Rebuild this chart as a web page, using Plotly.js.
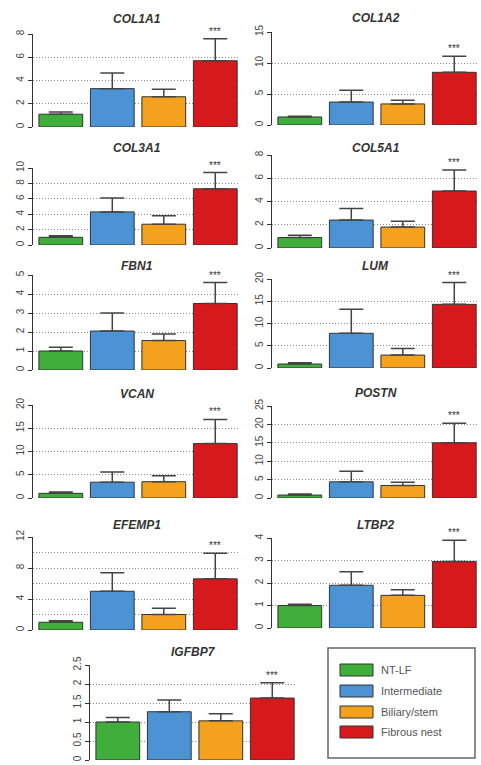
<!DOCTYPE html>
<html>
<head>
<meta charset="utf-8">
<script src="https://cdn.plot.ly/plotly-3.0.1.min.js"></script>
<style>html,body{margin:0;padding:0;background:#fff;}#chart{width:481px;height:765px;}</style>
</head>
<body>
<div id="chart"></div>
<script>
// ---- data ----
const genes = ['COL1A1','COL1A2','COL3A1','COL5A1','FBN1','LUM','VCAN','POSTN','EFEMP1','LTBP2','IGFBP7'];
const groups = ['NT-LF','Intermediate','Biliary/stem','Fibrous nest'];
const groupColors = ['#3fae3a','#4b93d4','#f4a21e','#d7191c'];
const ntlfMean   = [1.1, 1.3, 1.0, 0.9, 1.0, 0.9, 1.0, 0.8, 1.0, 1.0, 1.0];
const ntlfSem    = [0.2, 0.1, 0.2, 0.2, 0.2, 0.3, 0.3, 0.3, 0.2, 0.05, 0.12];
const interMean  = [3.3, 3.7, 4.3, 2.4, 2.05, 7.8, 3.4, 4.4, 5.0, 1.9, 1.27];
const interSem   = [1.35, 1.9, 1.8, 1.0, 0.95, 5.4, 2.2, 2.9, 2.4, 0.6, 0.31];
const biliMean   = [2.6, 3.4, 2.7, 1.8, 1.55, 2.9, 3.5, 3.4, 2.0, 1.45, 1.03];
const biliSem    = [0.65, 0.6, 1.1, 0.5, 0.35, 1.5, 1.3, 0.9, 0.8, 0.25, 0.19];
const fibMean    = [5.7, 8.5, 7.3, 4.9, 3.5, 14.3, 11.7, 15.0, 6.6, 2.95, 1.63];
const fibSem     = [1.9, 2.6, 2.1, 1.8, 1.1, 4.9, 5.2, 5.3, 3.3, 0.95, 0.40];
const sigLabel   = '***';
const yTop       = [8, 15, 10, 8, 5, 20, 20, 25, 12, 4, 2.5];
const yLabelStep = [2, 5, 2, 2, 1, 5, 5, 5, 4, 1, 0.5];
const yGridStep  = [2, 5, 2, 2, 1, 5, 5, 5, 2, 1, 0.5];

// ---- layout geometry (pixels) ----
const W = 481, H = 765;
const panelLeft  = [33, 272, 33, 272, 33, 272, 33, 272, 33, 272, 90];
const panelZero  = [127, 125, 245, 248, 370, 368, 498, 498, 630, 628, 760];
const panelTopPx = [34, 32, 168, 155, 275, 279, 405, 406, 537, 538, 665];
const titleY     = [19, 18, 148, 148, 266, 266, 394, 393, 525, 525, 652];
const panelWidth = 207;
const gridDash = '1px,2px';

const fx = p => p / W;
const fy = p => 1 - p / H;

const traces = [];
const layout = {
  width: W, height: H,
  margin: {l: 0, r: 0, t: 0, b: 0},
  paper_bgcolor: '#fff', plot_bgcolor: 'rgba(0,0,0,0)',
  showlegend: false,
  font: {family: 'Liberation Sans, Arial, sans-serif', color: '#444'},
  annotations: [], shapes: []
};

genes.forEach((g, i) => {
  const n = i + 1;
  const means = [ntlfMean[i], interMean[i], biliMean[i], fibMean[i]];
  const sems  = [ntlfSem[i], interSem[i], biliSem[i], fibSem[i]];
  traces.push({
    type: 'bar', x: [0, 1, 2, 3], y: means, width: 0.85,
    xaxis: 'x' + n, yaxis: 'y' + n,
    marker: {color: groupColors, line: {color: '#333', width: 1}},
    error_y: {type: 'data', symmetric: false, array: sems, arrayminus: [0,0,0,0],
              color: '#444', thickness: 1.5, width: 12},
    hoverinfo: 'y'
  });
  const x0 = fx(panelLeft[i]), x1 = fx(panelLeft[i] + panelWidth);
  layout['xaxis' + n] = {
    domain: [x0, x1], range: [-0.54, 3.48], anchor: 'y' + n,
    showticklabels: false, showgrid: false, zeroline: false, showline: false, ticks: ''
  };
  const ticks = [];
  for (let v = 0; v <= yTop[i] + 1e-9; v += yLabelStep[i]) ticks.push(+v.toFixed(2));
  const yax = {
    domain: [fy(panelZero[i]), fy(panelTopPx[i])], range: [0, yTop[i]], anchor: 'x' + n,
    tickvals: ticks, ticktext: ticks.map(v => String(v)),
    tickangle: -90, tickfont: {size: 10, color: '#444'},
    ticks: 'outside', ticklen: 4, tickcolor: '#333',
    showline: true, linecolor: '#333', linewidth: 1,
    showgrid: true, gridcolor: '#8a8a8a', griddash: gridDash, gridwidth: 1,
    zeroline: false
  };
  if (yGridStep[i] !== yLabelStep[i]) {
    yax.minor = {tick0: 0, dtick: yGridStep[i], showgrid: true, gridcolor: '#8a8a8a', griddash: gridDash, ticks: ''};
  }
  layout['yaxis' + n] = yax;
  layout.annotations.push({
    xref: 'paper', yref: 'paper', x: (x0 + x1) / 2, y: fy(titleY[i]),
    text: '<b><i>' + g + '</i></b>', showarrow: false, xanchor: 'center', yanchor: 'middle',
    font: {size: 12, color: '#333'}
  });
  layout.annotations.push({
    xref: 'x' + n, yref: 'y' + n, x: 3, y: fibMean[i] + fibSem[i],
    text: sigLabel, showarrow: false, xanchor: 'center', yanchor: 'bottom', yshift: 0,
    font: {size: 10, color: '#333333'}
  });
});

// legend box
layout.shapes.push({type: 'rect', xref: 'paper', yref: 'paper',
  x0: fx(328), x1: fx(475), y0: fy(758), y1: fy(648),
  line: {color: '#666', width: 1.5}, fillcolor: 'rgba(0,0,0,0)'});
const legY = [670, 691, 712, 732];
groups.forEach((grp, k) => {
  layout.shapes.push({type: 'rect', xref: 'paper', yref: 'paper',
    x0: fx(340), x1: fx(373), y0: fy(legY[k] + 6), y1: fy(legY[k] - 6),
    fillcolor: groupColors[k], line: {color: '#333', width: 1}});
  layout.annotations.push({xref: 'paper', yref: 'paper', x: fx(379), y: fy(legY[k]),
    text: grp, showarrow: false, xanchor: 'left', yanchor: 'middle',
    font: {size: 11, color: '#555'}});
});

Plotly.newPlot('chart', traces, layout, {displayModeBar: false, staticPlot: true});
</script>
</body>
</html>
